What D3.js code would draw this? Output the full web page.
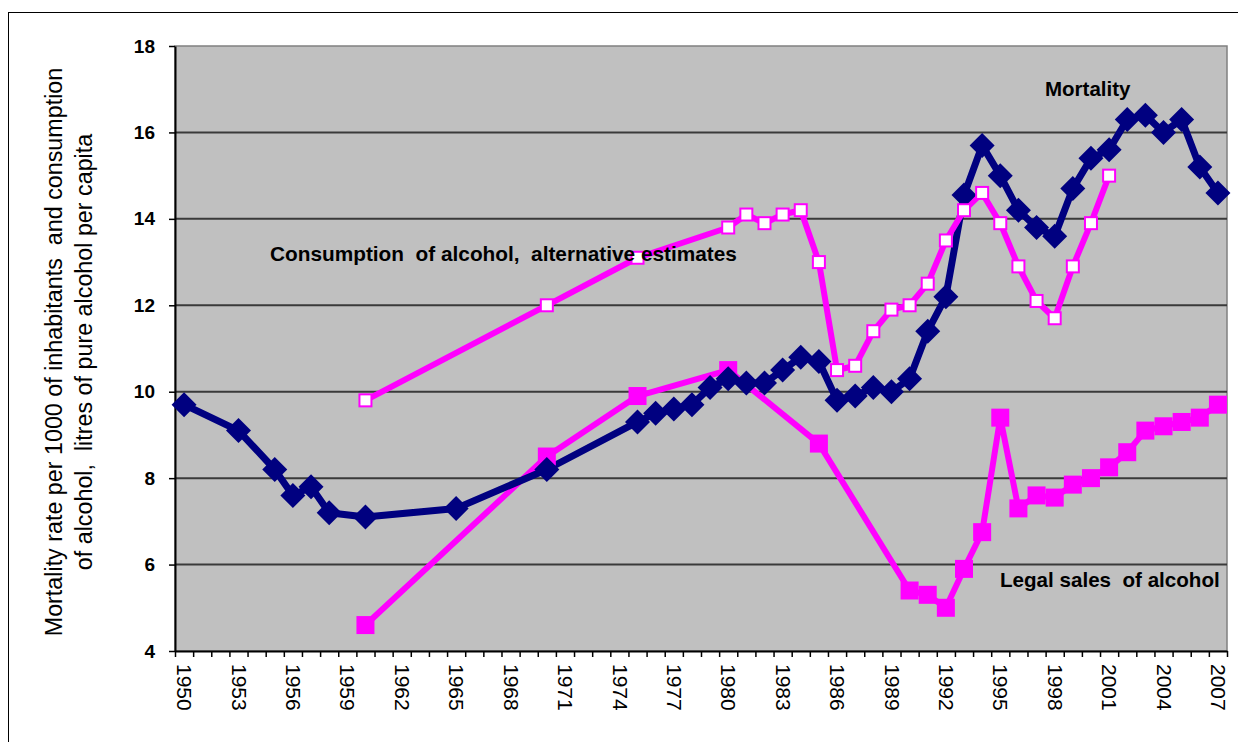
<!DOCTYPE html>
<html>
<head>
<meta charset="utf-8">
<script src="https://cdn.jsdelivr.net/npm/d3@7"></script>
<style>
  body { margin: 0; background: #fff; }
  text { font-family: Arial, "Liberation Sans", sans-serif; }
</style>
</head>
<body>
<div id="chart-area"></div>
<script>
// data
var mortYears = [1950,1953,1955,1956,1957,1958,1960,1965,1970,1975,1976,1977,1978,1979,1980,1981,1982,1983,1984,1985,1986,1987,1988,1989,1990,1991,1992,1993,1994,1995,1996,1997,1998,1999,2000,2001,2002,2003,2004,2005,2006,2007];
var mortality = [9.7,9.1,8.2,7.6,7.8,7.2,7.1,7.3,8.2,9.3,9.5,9.6,9.7,10.1,10.3,10.2,10.2,10.5,10.8,10.7,9.8,9.9,10.1,10.0,10.3,11.4,12.2,14.55,15.7,15.0,14.2,13.8,13.6,14.7,15.4,15.6,16.3,16.4,16.0,16.3,15.2,14.6];

var altYears = [1960,1970,1975,1980,1981,1982,1983,1984,1985,1986,1987,1988,1989,1990,1991,1992,1993,1994,1995,1996,1997,1998,1999,2000,2001];
var altConsumption = [9.8,12.0,13.1,13.8,14.1,13.9,14.1,14.2,13.0,10.5,10.6,11.4,11.9,12.0,12.5,13.5,14.2,14.6,13.9,12.9,12.1,11.7,12.9,13.9,15.0];

var salesYears = [1960,1970,1975,1980,1985,1990,1991,1992,1993,1994,1995,1996,1997,1998,1999,2000,2001,2002,2003,2004,2005,2006,2007];
var legalSales = [4.6,8.5,9.9,10.5,8.8,5.4,5.3,5.0,5.9,6.75,9.4,7.3,7.6,7.55,7.85,8.0,8.25,8.6,9.1,9.2,9.3,9.4,9.7];

var yTicks = [4,6,8,10,12,14,16,18];
var labelYears = d3.range(1950, 2008, 3);

var W = 1238, H = 742;
var pLeft = 175, pRight = 1227, pTop = 46, pBottom = 651;

var svg = d3.select("#chart-area").append("svg")
    .attr("width", W)
    .attr("height", H);

// outer frame
svg.append("rect")
    .attr("x", 8.5).attr("y", 12.5)
    .attr("width", 1240).attr("height", 740)
    .attr("fill", "none").attr("stroke", "#000").attr("stroke-width", 1);

var x = d3.scaleLinear()
    .domain([1949.5, 2007.5])
    .range([pLeft, pRight]);

var y = d3.scaleLinear()
    .domain([4, 18])
    .range([pBottom, pTop]);

// plot area
svg.append("rect")
    .attr("x", pLeft).attr("y", pTop)
    .attr("width", pRight - pLeft).attr("height", pBottom - pTop)
    .attr("fill", "#c0c0c0")
    .attr("stroke", "#808080").attr("stroke-width", 1.5);

// gridlines
svg.append("g").selectAll("line")
    .data(yTicks.filter((d)=>{return d > 4 && d < 18;}))
    .enter().append("line")
        .attr("x1", pLeft).attr("x2", pRight)
        .attr("y1", (d)=>{return y(d);})
        .attr("y2", (d)=>{return y(d);})
        .attr("stroke", "#3a3a3a").attr("stroke-width", 2);

// y axis
var yAxis = svg.append("g")
    .attr("transform", "translate(" + pLeft + ",0)")
    .call(d3.axisLeft(y).tickValues(yTicks).tickSize(6).tickSizeOuter(0).tickPadding(14));
yAxis.select(".domain").attr("stroke", "#000").attr("stroke-width", 2);
yAxis.selectAll(".tick line").attr("stroke", "#000").attr("stroke-width", 1.5);
yAxis.selectAll(".tick text")
    .attr("font-size", 19).attr("font-weight", "bold")
    .attr("font-family", "Arial, 'Liberation Sans', sans-serif")
    .attr("fill", "#000");

// x axis: ticks between categories
var xAxis = svg.append("g")
    .attr("transform", "translate(0," + pBottom + ")")
    .call(d3.axisBottom(x).tickValues(d3.range(1949.5, 2008, 1)).tickFormat("").tickSize(6).tickSizeOuter(0));
xAxis.select(".domain").attr("stroke", "#000").attr("stroke-width", 2);
xAxis.selectAll(".tick line").attr("stroke", "#000").attr("stroke-width", 1.5);

// x labels
var xLabels = svg.append("g")
    .attr("transform", "translate(0," + pBottom + ")")
    .call(d3.axisBottom(x).tickValues(labelYears).tickFormat(d3.format("d")).tickSize(0));
xLabels.select(".domain").remove();
xLabels.selectAll(".tick text")
    .attr("font-size", 21)
    .attr("font-family", "Arial, 'Liberation Sans', sans-serif")
    .attr("fill", "#000")
    .attr("text-anchor", "start")
    .attr("dy", "0.35em")
    .attr("y", 0)
    .attr("transform", "translate(0,13) rotate(90)");

// lines
var line = d3.line()
    .x((d)=>{return x(d[0]);})
    .y((d)=>{return y(d[1]);});

var mortData = mortYears.map((d, i)=>{return [d, mortality[i]];});
var altData = altYears.map((d, i)=>{return [d, altConsumption[i]];});
var salesData = salesYears.map((d, i)=>{return [d, legalSales[i]];});

svg.append("path").datum(salesData)
    .attr("d", line).attr("fill", "none")
    .attr("stroke", "#ff00ff").attr("stroke-width", 6).attr("stroke-linejoin", "round");

svg.append("path").datum(mortData)
    .attr("d", line).attr("fill", "none")
    .attr("stroke", "#000080").attr("stroke-width", 7).attr("stroke-linejoin", "round");

svg.append("path").datum(altData)
    .attr("d", line).attr("fill", "none")
    .attr("stroke", "#ff00ff").attr("stroke-width", 6).attr("stroke-linejoin", "round");

// markers
svg.append("g").selectAll("rect")
    .data(salesData)
    .enter().append("rect")
        .attr("x", (d)=>{return x(d[0]) - 9;})
        .attr("y", (d)=>{return y(d[1]) - 9;})
        .attr("width", 18).attr("height", 18)
        .attr("fill", "#ff00ff");

svg.append("g").selectAll("path")
    .data(mortData)
    .enter().append("path")
        .attr("d", "M0,-12.5L12.5,0L0,12.5L-12.5,0Z")
        .attr("transform", (d)=>{return "translate(" + x(d[0]) + "," + y(d[1]) + ")";})
        .attr("fill", "#000080");

svg.append("g").selectAll("rect")
    .data(altData)
    .enter().append("rect")
        .attr("x", (d)=>{return x(d[0]) - 6;})
        .attr("y", (d)=>{return y(d[1]) - 6;})
        .attr("width", 12).attr("height", 12)
        .attr("fill", "#fff")
        .attr("stroke", "#ff00ff").attr("stroke-width", 2);

// annotations
function note(txt, tx, ty, fs) {
    svg.append("text")
        .attr("x", tx).attr("y", ty)
        .attr("font-size", fs).attr("font-weight", "bold")
        .style("white-space", "pre")
        .attr("fill", "#000")
        .text(txt);
}
note("Mortality", 1045, 96, 20.5);
note("Consumption  of alcohol,  alternative estimates", 270, 261, 20.8);
note("Legal sales  of alcohol", 1000, 587, 20.6);

// y title
var yTitle = svg.append("text")
    .attr("transform", "translate(62,352) rotate(-90)")
    .attr("text-anchor", "middle")
    .attr("font-size", 23.3)
    .style("white-space", "pre")
    .attr("fill", "#000");
yTitle.append("tspan").attr("x", 0).attr("dy", 0)
    .text("Mortality rate per 1000 of inhabitants  and consumption");
yTitle.append("tspan").attr("x", 0).attr("dy", 30)
    .text("of alcohol,  litres of pure alcohol per capita");
</script>
</body>
</html>
